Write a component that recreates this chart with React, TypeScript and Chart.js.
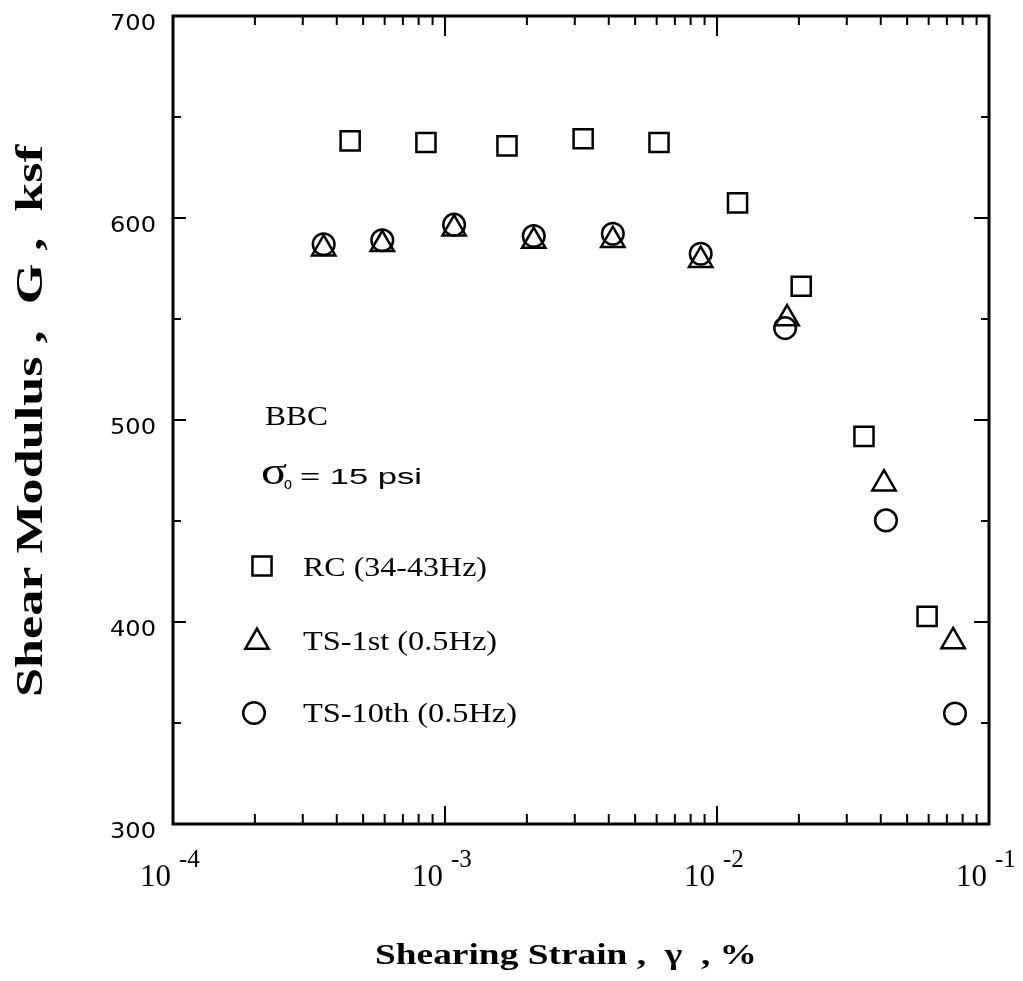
import React, { useEffect, useRef } from 'react';
import { Chart, registerables } from 'chart.js';

Chart.register(...registerables);

// ---- Data ----
const rcStrain = [4.48e-4, 8.51e-4, 1.69e-3, 3.22e-3, 6.12e-3, 1.19e-2, 2.04e-2, 3.47e-2, 5.92e-2];
const rcModulus = [638.2, 637.4, 635.7, 639.2, 637.4, 607.5, 566.2, 491.9, 402.8];

const ts1Strain = [3.58e-4, 5.88e-4, 1.08e-3, 2.12e-3, 4.14e-3, 8.71e-3, 1.81e-2, 4.11e-2, 7.38e-2];
const ts1Modulus = [584.8, 587.0, 594.7, 588.6, 589.0, 579.1, 550.2, 468.5, 390.4];

const ts10Strain = [3.58e-4, 5.88e-4, 1.08e-3, 2.12e-3, 4.14e-3, 8.71e-3, 1.78e-2, 4.18e-2, 7.5e-2];
const ts10Modulus = [587.0, 589.0, 596.7, 591.1, 592.2, 582.3, 545.5, 450.3, 354.7];

const seriesLabels = ['RC (34-43Hz)', 'TS-1st (0.5Hz)', 'TS-10th (0.5Hz)'];
const seriesStyles = ['rect', 'triangle', 'circle'];

const yTickValues = [300, 350, 400, 450, 500, 550, 600, 650, 700];
const yLabelValues = [300, 400, 500, 600, 700];
const xDecades = [1e-4, 1e-3, 1e-2, 1e-1];
const xDecadeExponents = ['-4', '-3', '-2', '-1'];
const xMinorMultipliers = [2, 3, 4, 5, 6, 7, 8, 9];

const xTitle = 'Shearing Strain ,  \u03b3  , %';
const yTitle = 'Shear Modulus ,  G ,  ksf';
const noteMaterial = 'BBC';
const noteStress = '= 15 psi';

const RADIUS: Record<string, number> = { rect: 13.5, triangle: 13.5, circle: 10.8 };

function toPoints(xs: number[], ys: number[]) {
  return xs.map((x, i) => ({ x, y: ys[i] }));
}

function fitText(
  ctx: CanvasRenderingContext2D,
  text: string,
  x: number,
  y: number,
  font: string,
  width: number,
  align: 'left' | 'right' | 'center' = 'left'
) {
  ctx.font = font;
  const w = ctx.measureText(text).width;
  const sx = width / w;
  ctx.save();
  ctx.translate(x, y);
  ctx.scale(sx, 1);
  ctx.textAlign = 'left';
  ctx.textBaseline = 'alphabetic';
  const ox = align === 'right' ? -w : align === 'center' ? -w / 2 : 0;
  ctx.fillText(text, ox, 0);
  ctx.restore();
}

function drawSymbol(ctx: CanvasRenderingContext2D, style: string, x: number, y: number, r: number) {
  ctx.beginPath();
  if (style === 'rect') {
    const s = Math.SQRT1_2 * r;
    ctx.rect(x - s, y - s, 2 * s, 2 * s);
  } else if (style === 'triangle') {
    let rad = 0;
    ctx.moveTo(x + Math.sin(rad) * r, y - Math.cos(rad) * r);
    rad += (2 * Math.PI) / 3;
    ctx.lineTo(x + Math.sin(rad) * r, y - Math.cos(rad) * r);
    rad += (2 * Math.PI) / 3;
    ctx.lineTo(x + Math.sin(rad) * r, y - Math.cos(rad) * r);
    ctx.closePath();
  } else {
    ctx.arc(x, y, r, 0, Math.PI * 2);
  }
  ctx.stroke();
}

const framePlugin = {
  id: 'frameAndText',
  afterDraw(chart: any) {
    const { ctx, chartArea: a } = chart;
    const xs = chart.scales.x;
    const ys = chart.scales.y;
    ctx.save();
    ctx.strokeStyle = '#000';
    ctx.fillStyle = '#000';
    ctx.lineCap = 'butt';

    const line = (x1: number, y1: number, x2: number, y2: number) => {
      ctx.beginPath();
      ctx.moveTo(x1, y1);
      ctx.lineTo(x2, y2);
      ctx.stroke();
    };

    // Inward ticks
    ctx.lineWidth = 2;
    yTickValues.forEach((v) => {
      const py = ys.getPixelForValue(v);
      const major = v % 100 === 0;
      line(a.left, py, a.left + (major ? 13 : 8), py);
      line(a.right, py, a.right - (major ? 15 : 8), py);
    });
    xDecades.forEach((d, i) => {
      const px = xs.getPixelForValue(d);
      line(px, a.bottom, px, a.bottom - 18);
      line(px, a.top, px, a.top + 20);
      if (i < xDecades.length - 1) {
        xMinorMultipliers.forEach((m) => {
          const mx = xs.getPixelForValue(m * d);
          line(mx, a.bottom, mx, a.bottom - 10);
          line(mx, a.top, mx, a.top + 9);
        });
      }
    });

    // Frame
    ctx.lineWidth = 3;
    ctx.strokeRect(a.left, a.top, a.right - a.left, a.bottom - a.top);

    // Y tick labels
    yLabelValues.forEach((v) => {
      const py = ys.getPixelForValue(v);
      fitText(ctx, String(v), a.left - 17, py + 14, '22px "DejaVu Sans"', 46, 'right');
    });

    // X tick labels (10 with superscript exponent)
    xDecades.forEach((d, i) => {
      const px = xs.getPixelForValue(d);
      ctx.font = '31px "Liberation Serif"';
      ctx.textAlign = 'right';
      ctx.textBaseline = 'alphabetic';
      ctx.fillText('10', px - 2, a.bottom + 62);
      ctx.font = '25px "Liberation Serif"';
      ctx.textAlign = 'left';
      ctx.fillText(xDecadeExponents[i], px + 6, a.bottom + 43);
    });

    // Axis titles
    fitText(ctx, xTitle, 375, 964, 'bold 29px "Liberation Serif"', 382, 'left');
    ctx.save();
    ctx.translate(42, 421);
    ctx.rotate(-Math.PI / 2);
    fitText(ctx, yTitle, 0, 0, 'bold 37px "Liberation Serif"', 552, 'center');
    ctx.restore();

    // Notes
    const L = a.left;
    fitText(ctx, noteMaterial, L + 92, 425, '27px "Liberation Serif"', 63, 'left');
    fitText(ctx, '\u03c3', L + 88, 484, '38px "Liberation Serif"', 26, 'left');
    fitText(ctx, 'o', L + 111, 489, '16px "Liberation Sans"', 8, 'left');
    fitText(ctx, noteStress, L + 127, 484, '22px "Liberation Sans"', 122, 'left');

    // Legend
    const legendRows = [
      { sx: L + 89, sy: 566, ty: 576, w: 184 },
      { sx: L + 84, sy: 642, ty: 650, w: 194 },
      { sx: L + 81, sy: 713, ty: 722, w: 214 },
    ];
    ctx.lineWidth = 2.5;
    legendRows.forEach((row, i) => {
      drawSymbol(ctx, seriesStyles[i], row.sx, row.sy, RADIUS[seriesStyles[i]]);
      fitText(ctx, seriesLabels[i], L + 130, row.ty, '27px "Liberation Serif"', row.w, 'left');
    });

    ctx.restore();
  },
};

export default function App() {
  const canvasRef = useRef<HTMLCanvasElement | null>(null);

  useEffect(() => {
    document.body.style.margin = '0';
    const canvas = canvasRef.current;
    if (!canvas) return;
    const mk = (i: number, data: { x: number; y: number }[]) => ({
      label: seriesLabels[i],
      data,
      showLine: false,
      pointStyle: seriesStyles[i] as any,
      pointRadius: RADIUS[seriesStyles[i]],
      pointHoverRadius: RADIUS[seriesStyles[i]],
      pointBorderWidth: 2.5,
      borderColor: '#000',
      backgroundColor: 'rgba(0,0,0,0)',
    });
    const chart = new Chart(canvas, {
      type: 'scatter',
      data: {
        datasets: [
          mk(0, toPoints(rcStrain, rcModulus)),
          mk(1, toPoints(ts1Strain, ts1Modulus)),
          mk(2, toPoints(ts10Strain, ts10Modulus)),
        ],
      },
      options: {
        responsive: false,
        maintainAspectRatio: false,
        animation: false,
        devicePixelRatio: 1,
        layout: { padding: { left: 173, right: 34, top: 16, bottom: 157 } },
        plugins: { legend: { display: false }, tooltip: { enabled: false } },
        events: [],
        scales: {
          x: { type: 'logarithmic', min: 1e-4, max: 1e-1, display: false },
          y: { type: 'linear', min: 300, max: 700, display: false },
        },
      },
      plugins: [framePlugin],
    });
    return () => chart.destroy();
  }, []);

  return (
    <div style={{ width: 1023, height: 981, background: '#fff' }}>
      <canvas ref={canvasRef} width={1023} height={981} style={{ display: 'block' }} />
    </div>
  );
}
